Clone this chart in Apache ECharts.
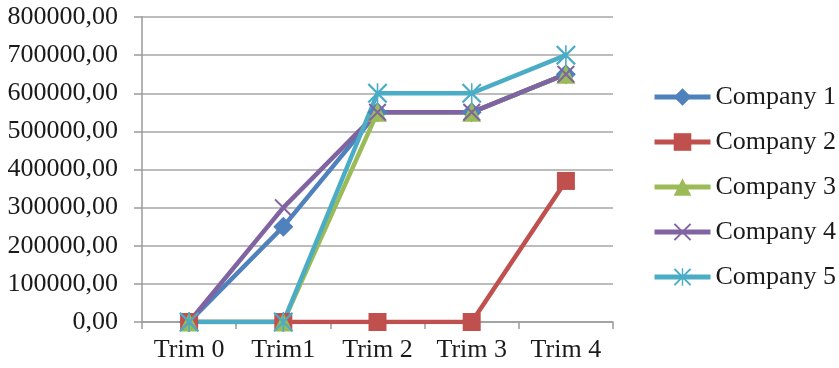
<!DOCTYPE html>
<html>
<head>
<meta charset="utf-8">
<script src="https://cdn.jsdelivr.net/npm/echarts@6/dist/echarts.min.js"></script>
<style>
  html, body { margin: 0; padding: 0; background: #ffffff; }
  #chart { width: 839px; height: 368px; }
</style>
</head>
<body>
<div id="chart"></div>
<script>
// Quarterly figures per company
const categories = ['Trim 0', 'Trim1', 'Trim 2', 'Trim 3', 'Trim 4'];
const company1 = [0, 250000, 550000, 550000, 650000];
const company2 = [0, 0, 0, 0, 370000];
const company3 = [0, 0, 550000, 550000, 650000];
const company4 = [0, 300000, 550000, 550000, 650000];
const company5 = [0, 0, 600000, 600000, 700000];
const seriesNames = ['Company 1', 'Company 2', 'Company 3', 'Company 4', 'Company 5'];
const seriesValues = [company1, company2, company3, company4, company5];

const colors = ['#4F81BD', '#C0504D', '#9BBB59', '#8064A2', '#4BACC6'];

// Marker shapes: diamond, square, triangle, thin X, asterisk
const crossPath = 'path://M0,8 L8,0 L100,92 L92,100 Z M92,0 L100,8 L8,100 L0,92 Z';
const starPath = 'path://M0,8 L8,0 L100,92 L92,100 Z M92,0 L100,8 L8,100 L0,92 Z M46,0 L54,0 L54,100 L46,100 Z';
const symbols = ['diamond', 'rect', 'triangle', crossPath, starPath];
const symbolSizes = [20, 18, 19, 18, 20];

const FONT = '"Liberation Serif", "Times New Roman", serif';

const chart = echarts.init(document.getElementById('chart'), null, { renderer: 'canvas' });

chart.setOption({
  animation: false,
  backgroundColor: '#ffffff',
  color: colors,
  textStyle: { fontFamily: FONT },
  grid: { left: 142, right: 226, top: 17, bottom: 46, containLabel: false },
  legend: {
    orient: 'vertical',
    left: 652,
    top: 84,
    padding: 0,
    itemWidth: 56,
    itemHeight: 22,
    itemGap: 19,
    data: seriesNames,
    lineStyle: { width: 5 },
    textStyle: { fontFamily: FONT, fontSize: 26, color: '#1a1a1a', lineHeight: 26 }
  },
  xAxis: {
    type: 'category',
    data: categories,
    boundaryGap: true,
    axisLine: { show: true, lineStyle: { color: '#9a9a9a', width: 1.5 } },
    axisTick: { show: true, length: 7, alignWithLabel: false, lineStyle: { color: '#9a9a9a', width: 1.5 } },
    axisLabel: { fontFamily: FONT, fontSize: 26, color: '#1a1a1a', margin: 15 },
    splitLine: { show: false }
  },
  yAxis: {
    type: 'value',
    min: 0,
    max: 800000,
    interval: 100000,
    axisLine: { show: true, lineStyle: { color: '#9a9a9a', width: 1.5 } },
    axisTick: { show: true, length: 8, lineStyle: { color: '#9a9a9a', width: 1.5 } },
    axisLabel: {
      fontFamily: FONT, fontSize: 26, color: '#1a1a1a', margin: 24,
      formatter: function (v) { return v + ',00'; }
    },
    splitLine: { show: true, lineStyle: { color: '#a6a6a6', width: 1.5 } }
  },
  series: seriesNames.map(function (name, i) {
    return {
      name: name,
      type: 'line',
      data: seriesValues[i],
      symbol: symbols[i],
      symbolSize: symbolSizes[i],
      showAllSymbol: true,
      lineStyle: { width: 4.5, color: colors[i] },
      itemStyle: { color: colors[i], borderWidth: 0 },
      emphasis: { disabled: true }
    };
  })
});
</script>
</body>
</html>
